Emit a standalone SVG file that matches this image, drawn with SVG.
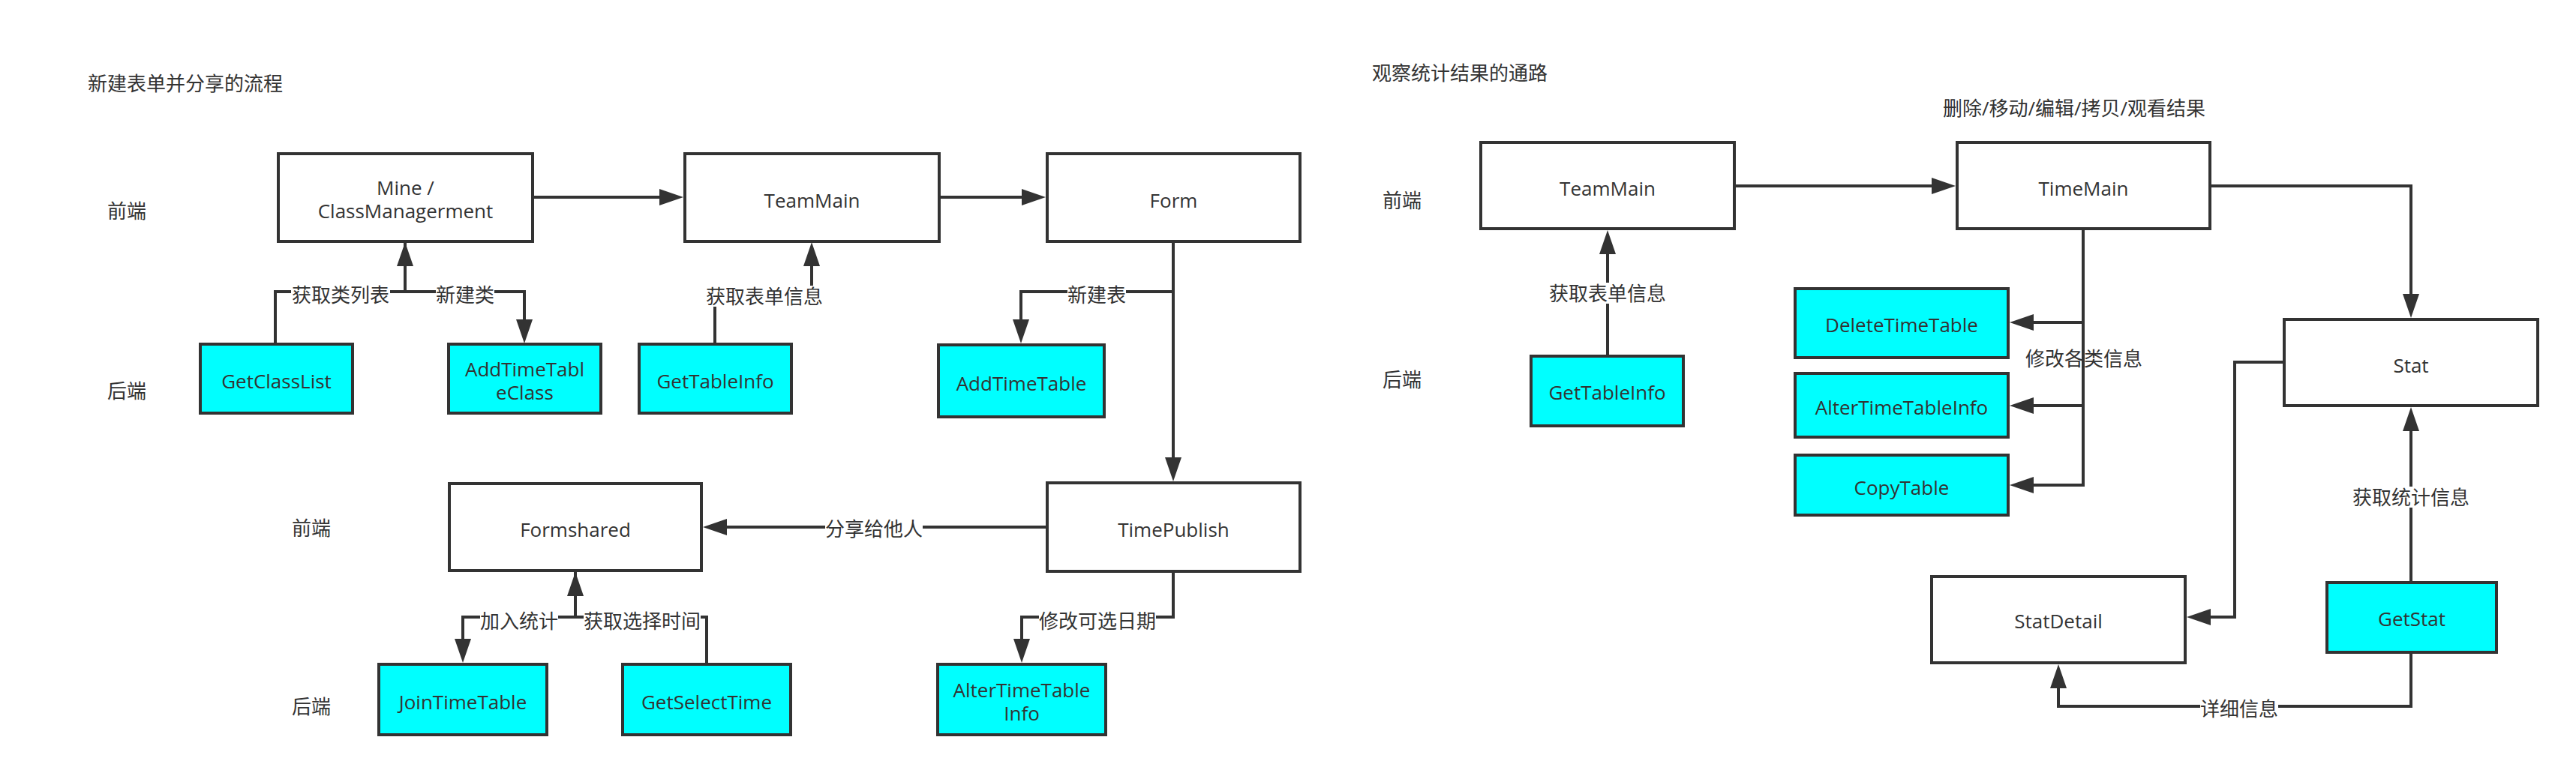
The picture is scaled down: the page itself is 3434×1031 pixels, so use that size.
<svg xmlns="http://www.w3.org/2000/svg" width="3434" height="1031" viewBox="0 0 3434 1031">
<style>
text{font-family:"Open Sans","Noto Sans CJK SC",sans-serif;font-size:26px;fill:#333333}
.c{text-anchor:middle}
.box{fill:#ffffff;stroke:#333333;stroke-width:4}
.be{fill:#00ffff;stroke:#333333;stroke-width:4}
.e{fill:none;stroke:#333333;stroke-width:4}
.bg{fill:#ffffff}
</style>
<defs>
<marker id="arr" markerUnits="userSpaceOnUse" markerWidth="32" markerHeight="22" refX="16" refY="11" orient="auto" viewBox="0 0 32 22">
<path d="M0,0 L32,11 L0,22 Z" fill="#333333"/>
</marker>
</defs>
<rect width="3434" height="1031" fill="#ffffff"/>

<g id="titles">
<text x="117" y="121">新建表单并分享的流程</text>
<text x="1829" y="107">观察统计结果的通路</text>
<text class="c" x="2765" y="154">删除/移动/编辑/拷贝/观看结果</text>
<text class="c" x="169" y="291">前端</text>
<text class="c" x="169" y="531">后端</text>
<text class="c" x="415" y="714">前端</text>
<text class="c" x="415" y="952">后端</text>
<text class="c" x="1869" y="277">前端</text>
<text class="c" x="1869" y="516">后端</text>
</g>

<g id="connectors">
<path class="e" d="M710,263 L895,263" marker-end="url(#arr)"/>
<path class="e" d="M1252,263 L1378,263" marker-end="url(#arr)"/>
<path class="e" d="M367,459 L367,389 L540,389 L540,339" marker-end="url(#arr)"/>
<path class="e" d="M540,322 L540,389 L699,389 L699,442" marker-end="url(#arr)"/>
<path class="e" d="M953,459 L953,395 L1082,395 L1082,339" marker-end="url(#arr)"/>
<path class="e" d="M1564,322 L1564,389 L1361,389 L1361,442" marker-end="url(#arr)"/>
<path class="e" d="M1564,322 L1564,626" marker-end="url(#arr)"/>
<path class="e" d="M1396,703 L953,703" marker-end="url(#arr)"/>
<path class="e" d="M767,761 L767,823 L617,823 L617,868" marker-end="url(#arr)"/>
<path class="e" d="M942,886 L942,823 L767,823 L767,779" marker-end="url(#arr)"/>
<path class="e" d="M1564,762 L1564,823 L1362,823 L1362,868" marker-end="url(#arr)"/>

<path class="e" d="M2312,248 L2591,248" marker-end="url(#arr)"/>
<path class="e" d="M2143,475 L2143,323" marker-end="url(#arr)"/>
<path class="e" d="M2777,305 L2777,430 L2695,430" marker-end="url(#arr)"/>
<path class="e" d="M2777,305 L2777,541 L2695,541" marker-end="url(#arr)"/>
<path class="e" d="M2777,305 L2777,647 L2695,647" marker-end="url(#arr)"/>
<path class="e" d="M2946,248 L3214,248 L3214,408" marker-end="url(#arr)"/>
<path class="e" d="M3045,483 L2979,483 L2979,823 L2931,823" marker-end="url(#arr)"/>
<path class="e" d="M3214,777 L3214,559" marker-end="url(#arr)"/>
<path class="e" d="M3214,870 L3214,942 L2744,942 L2744,902" marker-end="url(#arr)"/>

<g id="edge-labels">
<rect class="bg" x="388" y="379" width="132" height="28"/>
<text class="c" x="454" y="403">获取类列表</text>
<rect class="bg" x="581" y="379" width="78" height="28"/>
<text class="c" x="620" y="403">新建类</text>
<rect class="bg" x="941" y="381" width="156" height="28"/>
<text class="c" x="1019" y="405">获取表单信息</text>
<rect class="bg" x="1423" y="379" width="78" height="28"/>
<text class="c" x="1462" y="403">新建表</text>
<rect class="bg" x="1100" y="691" width="130" height="28"/>
<text class="c" x="1165" y="715">分享给他人</text>
<rect class="bg" x="640" y="814" width="104" height="28"/>
<text class="c" x="692" y="838">加入统计</text>
<rect class="bg" x="778" y="814" width="156" height="28"/>
<text class="c" x="856" y="838">获取选择时间</text>
<rect class="bg" x="1385" y="814" width="156" height="28"/>
<text class="c" x="1463" y="838">修改可选日期</text>
<rect class="bg" x="2065" y="377" width="156" height="28"/>
<text class="c" x="2143" y="401">获取表单信息</text>
<text class="c" x="2778" y="488">修改各类信息</text>
<rect class="bg" x="3136" y="649" width="156" height="28"/>
<text class="c" x="3214" y="673">获取统计信息</text>
<rect class="bg" x="2933" y="931" width="104" height="28"/>
<text class="c" x="2985" y="955">详细信息</text>
</g>
</g>

<g id="node-mine"><rect class="box" x="371" y="205" width="339" height="117"/><text class="c" x="540.5" y="260">Mine /</text><text class="c" x="540.5" y="291">ClassManagerment</text></g>
<g id="node-teammain"><rect class="box" x="913" y="205" width="339" height="117"/><text class="c" x="1082.5" y="277">TeamMain</text></g>
<g id="node-form"><rect class="box" x="1396" y="205" width="337" height="117"/><text class="c" x="1564.5" y="277">Form</text></g>
<g id="node-timepublish"><rect class="box" x="1396" y="644" width="337" height="118"/><text class="c" x="1564.5" y="716">TimePublish</text></g>
<g id="node-formshared"><rect class="box" x="599" y="645" width="336" height="116"/><text class="c" x="767" y="716">Formshared</text></g>
<g id="node-getclasslist"><rect class="be" x="267" y="459" width="203" height="92"/><text class="c" x="368.5" y="518">GetClassList</text></g>
<g id="node-addtimetableclass"><rect class="be" x="598" y="459" width="203" height="92"/><text class="c" x="699.5" y="502">AddTimeTabl</text><text class="c" x="699.5" y="533">eClass</text></g>
<g id="node-gettableinfo"><rect class="be" x="852" y="459" width="203" height="92"/><text class="c" x="953.5" y="518">GetTableInfo</text></g>
<g id="node-addtimetable"><rect class="be" x="1251" y="460" width="221" height="96"/><text class="c" x="1361.5" y="521">AddTimeTable</text></g>
<g id="node-jointimetable"><rect class="be" x="505" y="886" width="224" height="94"/><text class="c" x="617" y="946">JoinTimeTable</text></g>
<g id="node-getselecttime"><rect class="be" x="830" y="886" width="224" height="94"/><text class="c" x="942" y="946">GetSelectTime</text></g>
<g id="node-altertimetableinfo"><rect class="be" x="1250" y="886" width="224" height="94"/><text class="c" x="1362" y="930">AlterTimeTable</text><text class="c" x="1362" y="961">Info</text></g>

<g id="node-teammain2"><rect class="box" x="1974" y="190" width="338" height="115"/><text class="c" x="2143" y="261">TeamMain</text></g>
<g id="node-timemain"><rect class="box" x="2609" y="190" width="337" height="115"/><text class="c" x="2777.5" y="261">TimeMain</text></g>
<g id="node-gettableinfo2"><rect class="be" x="2041" y="475" width="203" height="93"/><text class="c" x="2142.5" y="533">GetTableInfo</text></g>
<g id="node-deletetimetable"><rect class="be" x="2393" y="385" width="284" height="92"/><text class="c" x="2535" y="443">DeleteTimeTable</text></g>
<g id="node-altertimetableinfo2"><rect class="be" x="2393" y="498" width="284" height="85"/><text class="c" x="2535" y="553">AlterTimeTableInfo</text></g>
<g id="node-copytable"><rect class="be" x="2393" y="607" width="284" height="80"/><text class="c" x="2535" y="660">CopyTable</text></g>
<g id="node-stat"><rect class="box" x="3045" y="426" width="338" height="115"/><text class="c" x="3214" y="497">Stat</text></g>
<g id="node-statdetail"><rect class="box" x="2575" y="769" width="338" height="115"/><text class="c" x="2744" y="838">StatDetail</text></g>
<g id="node-getstat"><rect class="be" x="3102" y="777" width="226" height="93"/><text class="c" x="3215" y="835">GetStat</text></g>
</svg>
